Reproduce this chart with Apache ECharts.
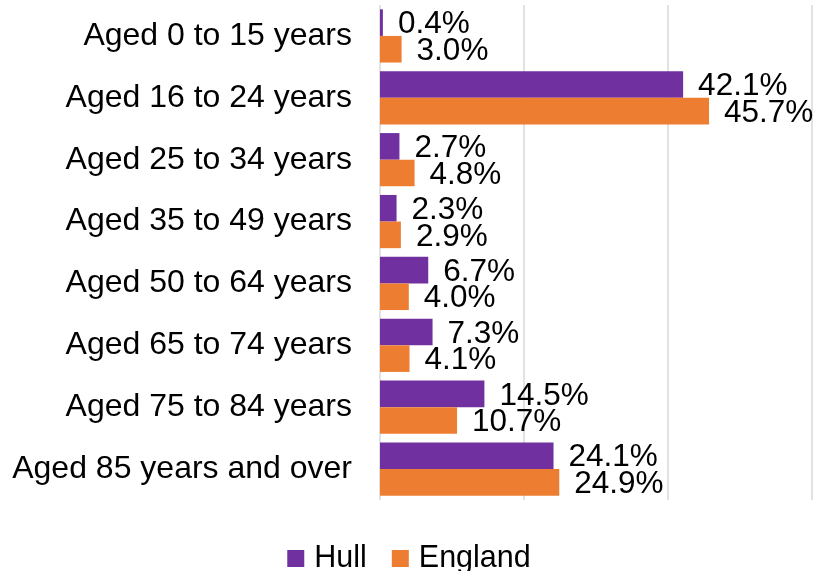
<!DOCTYPE html>
<html>
<head>
<meta charset="utf-8">
<script src="https://cdn.jsdelivr.net/npm/echarts@6/dist/echarts.min.js"></script>
<style>html,body{margin:0;padding:0;background:#fff}#c{width:818px;height:571px}</style>
</head>
<body>
<div id="c"></div>
<script>
var categories = ["Aged 0 to 15 years","Aged 16 to 24 years","Aged 25 to 34 years","Aged 35 to 49 years","Aged 50 to 64 years","Aged 65 to 74 years","Aged 75 to 84 years","Aged 85 years and over"];
var hull = [0.4, 42.1, 2.7, 2.3, 6.7, 7.3, 14.5, 24.1];
var england = [3.0, 45.7, 4.8, 2.9, 4.0, 4.1, 10.7, 24.9];
var xTicks = [0, 20, 40, 60];

var font = "Arial, 'Liberation Sans', sans-serif";
var chart = echarts.init(document.getElementById('c'), null, {renderer: 'canvas'});
var lbl = {
  show: true, position: 'right', distance: 15, offset: [0, 2],
  color: '#000', fontSize: 31.5, fontFamily: font,
  formatter: function (p) { return p.value.toFixed(1) + '%'; }
};
chart.setOption({
  animation: false,
  grid: {left: 380, right: 6, top: 5, bottom: 71, containLabel: false},
  legend: {
    top: 538, left: 'center', itemWidth: 17, itemHeight: 17, itemGap: 25,
    icon: 'rect',
    textStyle: {fontSize: 30.5, color: '#000', fontFamily: font, padding: [0, 0, 0, 5]},
    data: ['Hull', 'England']
  },
  xAxis: {
    type: 'value', min: xTicks[0], max: xTicks[xTicks.length - 1], interval: 20,
    axisLabel: {show: false}, axisLine: {show: false}, axisTick: {show: false},
    splitLine: {lineStyle: {color: '#d9d9d9', width: 1.5}}
  },
  yAxis: {
    type: 'category', data: categories, inverse: true,
    axisLine: {show: false}, axisTick: {show: false},
    axisLabel: {fontSize: 32, color: '#000', fontFamily: font, margin: 28, padding: [4, 0, 0, 0]}
  },
  series: [
    {name: 'Hull', type: 'bar', data: hull, itemStyle: {color: '#7030A0'},
     barGap: '0%', barCategoryGap: '14%', label: lbl},
    {name: 'England', type: 'bar', data: england, itemStyle: {color: '#ED7D31'},
     barGap: '0%', barCategoryGap: '14%', label: lbl}
  ]
});
</script>
</body>
</html>
